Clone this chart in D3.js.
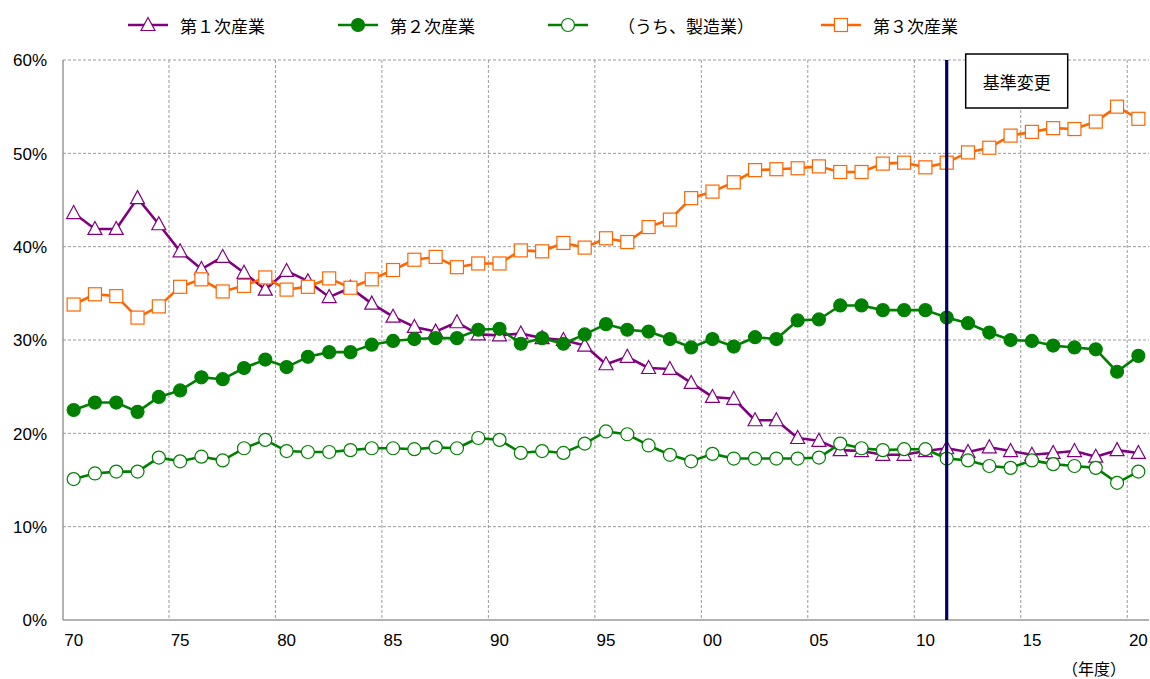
<!DOCTYPE html>
<html lang="ja">
<head>
<meta charset="utf-8">
<script src="https://cdn.jsdelivr.net/npm/d3@7/dist/d3.min.js"></script>
<style>
  html, body { margin: 0; padding: 0; background: #fff; }
  svg { display: block; }
  .tick-text { font-family: "Liberation Sans", Arial, sans-serif; font-size: 17px; fill: #000; }
  .jp { font-family: "Noto Sans CJK JP", sans-serif; fill: #000; }
</style>
</head>
<body>
<svg id="chart" width="1150" height="679"></svg>
<script>
// 年度（1970〜2020）
const years = d3.range(1970, 2021);

// 産業別構成比（%）
const primary = [43.6, 41.9, 41.9, 45.2, 42.4, 39.5, 37.6, 38.9, 37.2, 35.4,
  37.4, 36.3, 34.6, 35.6, 33.9, 32.5, 31.4, 30.9, 31.9, 30.6,
  30.5, 30.7, 30.2, 30.0, 29.4, 27.4, 28.2, 27.0, 26.9, 25.4,
  23.9, 23.7, 21.4, 21.4, 19.5, 19.2, 18.2, 18.1, 17.7, 17.7,
  18.1, 18.4, 18.0, 18.5, 18.1, 17.7, 17.9, 18.1, 17.5, 18.2, 17.9];

const secondary = [22.5, 23.3, 23.3, 22.3, 23.9, 24.6, 26.0, 25.8, 27.0, 27.9,
  27.1, 28.2, 28.7, 28.7, 29.5, 29.9, 30.1, 30.2, 30.2, 31.1,
  31.2, 29.6, 30.2, 29.6, 30.6, 31.7, 31.1, 30.9, 30.1, 29.2,
  30.1, 29.3, 30.3, 30.1, 32.1, 32.2, 33.7, 33.7, 33.2, 33.2,
  33.2, 32.4, 31.8, 30.8, 30.0, 29.9, 29.4, 29.2, 29.0, 26.6, 28.3];

const manufacturing = [15.1, 15.7, 15.9, 15.9, 17.4, 17.0, 17.5, 17.1, 18.4, 19.3,
  18.1, 18.0, 18.0, 18.2, 18.4, 18.4, 18.3, 18.5, 18.4, 19.5,
  19.3, 17.9, 18.1, 17.9, 18.9, 20.2, 19.9, 18.7, 17.7, 17.0,
  17.8, 17.3, 17.3, 17.3, 17.3, 17.4, 18.9, 18.4, 18.2, 18.3,
  18.3, 17.3, 17.1, 16.5, 16.3, 17.1, 16.7, 16.5, 16.3, 14.7, 15.9];

const tertiary = [33.8, 34.9, 34.7, 32.4, 33.6, 35.7, 36.5, 35.2, 35.8, 36.7,
  35.4, 35.7, 36.6, 35.6, 36.5, 37.5, 38.6, 38.9, 37.8, 38.2,
  38.2, 39.6, 39.5, 40.4, 39.9, 40.9, 40.5, 42.1, 42.9, 45.2,
  45.9, 46.9, 48.2, 48.3, 48.4, 48.6, 48.0, 48.0, 48.9, 49.0,
  48.5, 49.0, 50.1, 50.6, 51.9, 52.3, 52.7, 52.6, 53.4, 55.0, 53.7];

const yTicks = [0, 10, 20, 30, 40, 50, 60];
const xTickYears = [1970, 1975, 1980, 1985, 1990, 1995, 2000, 2005, 2010, 2015, 2020];
const seriesNames = ["第１次産業", "第２次産業", "（うち、製造業）", "第３次産業"];
const baseChangeYear = 2011;
const baseChangeLabel = "基準変更";
const unitLabel = "（年度）";

const series = [
  { name: seriesNames[0], values: primary, color: "#800080", marker: "triangle", fill: "#fff" },
  { name: seriesNames[1], values: secondary, color: "#008000", marker: "circle", fill: "#008000" },
  { name: seriesNames[2], values: manufacturing, color: "#008000", marker: "circle", fill: "#fff" },
  { name: seriesNames[3], values: tertiary, color: "#FF6600", marker: "square", fill: "#fff" }
];

const svg = d3.select("#chart");
const plot = { left: 63, right: 1149, top: 60, bottom: 620 };

const x = d3.scaleBand().domain(years).range([plot.left, plot.right]).padding(0);
const cx = yr => x(yr) + x.bandwidth() / 2;
const y = d3.scaleLinear().domain([0, 60]).range([plot.bottom, plot.top]);

// 横方向の目盛線
const grid = svg.append("g");
grid.selectAll("line.h")
  .data(yTicks.filter(v => v > 0))
  .join("line")
  .attr("x1", plot.left).attr("x2", plot.right)
  .attr("y1", d => y(d)).attr("y2", d => y(d))
  .attr("stroke", "#9a9a9a").attr("stroke-width", 1)
  .attr("stroke-dasharray", "3,2");

// 縦方向の目盛線（5年ごとの区切り）
grid.selectAll("line.v")
  .data(xTickYears.filter(v => v > 1970))
  .join("line")
  .attr("x1", d => x(d) - 0.5).attr("x2", d => x(d) - 0.5)
  .attr("y1", plot.top).attr("y2", plot.bottom)
  .attr("stroke", "#9a9a9a").attr("stroke-width", 1)
  .attr("stroke-dasharray", "3,2");

// 軸線
svg.append("line")
  .attr("x1", plot.left).attr("x2", plot.left)
  .attr("y1", plot.top).attr("y2", plot.bottom)
  .attr("stroke", "#999").attr("stroke-width", 1.5);
svg.append("line")
  .attr("x1", plot.left).attr("x2", plot.right)
  .attr("y1", plot.bottom).attr("y2", plot.bottom)
  .attr("stroke", "#999").attr("stroke-width", 1.5);

// Y軸ラベル
const yAxis = d3.axisLeft(y).tickValues(yTicks).tickFormat(d => d + "%").tickSize(0).tickPadding(16);
const yG = svg.append("g").attr("transform", `translate(${plot.left},0)`).call(yAxis);
yG.select(".domain").remove();
yG.selectAll("text").attr("class", "tick-text").attr("dy", "0.35em");

// X軸ラベル
const xAxis = d3.axisBottom(x).tickValues(xTickYears)
  .tickFormat(d => String(d).slice(2)).tickSize(0).tickPadding(14);
const xG = svg.append("g").attr("transform", `translate(0,${plot.bottom})`).call(xAxis);
xG.select(".domain").remove();
xG.selectAll("text").attr("class", "tick-text").attr("dy", "0.71em");

// マーカー
function drawMarker(g, type, color, fill) {
  if (type === "triangle") {
    g.append("path").attr("d", "M0,-7.5 L7,5.5 L-7,5.5 Z")
      .attr("fill", fill).attr("stroke", color).attr("stroke-width", 1.2);
  } else if (type === "circle") {
    g.append("circle").attr("r", 6.5)
      .attr("fill", fill).attr("stroke", color).attr("stroke-width", 1.2);
  } else {
    g.append("rect").attr("x", -6.5).attr("y", -6.5).attr("width", 13).attr("height", 13)
      .attr("fill", fill).attr("stroke", color).attr("stroke-width", 1.2);
  }
}

const line = d3.line().x((d, i) => cx(years[i])).y(d => y(d));

series.forEach(s => {
  const g = svg.append("g");
  g.append("path").datum(s.values)
    .attr("d", line)
    .attr("fill", "none").attr("stroke", s.color).attr("stroke-width", 2.6)
    .attr("stroke-linejoin", "round");
  g.selectAll("g.pt")
    .data(s.values)
    .join("g")
    .attr("transform", (d, i) => `translate(${cx(years[i])},${y(d)})`)
    .each(function () { drawMarker(d3.select(this), s.marker, s.color, s.fill); });
});

// 基準変更の縦線
svg.append("line")
  .attr("x1", cx(baseChangeYear)).attr("x2", cx(baseChangeYear))
  .attr("y1", plot.top).attr("y2", plot.bottom)
  .attr("stroke", "#000066").attr("stroke-width", 3.2);

const boxG = svg.append("g").attr("transform", `translate(${cx(baseChangeYear) + 19},54)`);
boxG.append("rect").attr("width", 102).attr("height", 54)
  .attr("fill", "#fff").attr("stroke", "#000").attr("stroke-width", 1.5);
boxG.append("text").attr("class", "jp").attr("x", 51).attr("y", 27)
  .attr("text-anchor", "middle").attr("dominant-baseline", "central")
  .attr("font-size", 17).text(baseChangeLabel);

// 凡例
const legendX = [128, 338, 548, 821];
series.forEach((s, i) => {
  const g = svg.append("g").attr("transform", `translate(${legendX[i]},25)`);
  g.append("line").attr("x1", 0).attr("x2", 40).attr("y1", 0).attr("y2", 0)
    .attr("stroke", s.color).attr("stroke-width", 2.6);
  const m = g.append("g").attr("transform", "translate(20,0)");
  drawMarker(m, s.marker, s.color, s.fill);
  g.append("text").attr("class", "jp").attr("x", i === 2 ? 70 : 52).attr("y", 0)
    .attr("dominant-baseline", "central").attr("font-size", 17).text(s.name);
});

// 単位
svg.append("text").attr("class", "jp").attr("x", 1094).attr("y", 675)
  .attr("text-anchor", "middle").attr("font-size", 16).text(unitLabel);
</script>
</body>
</html>
